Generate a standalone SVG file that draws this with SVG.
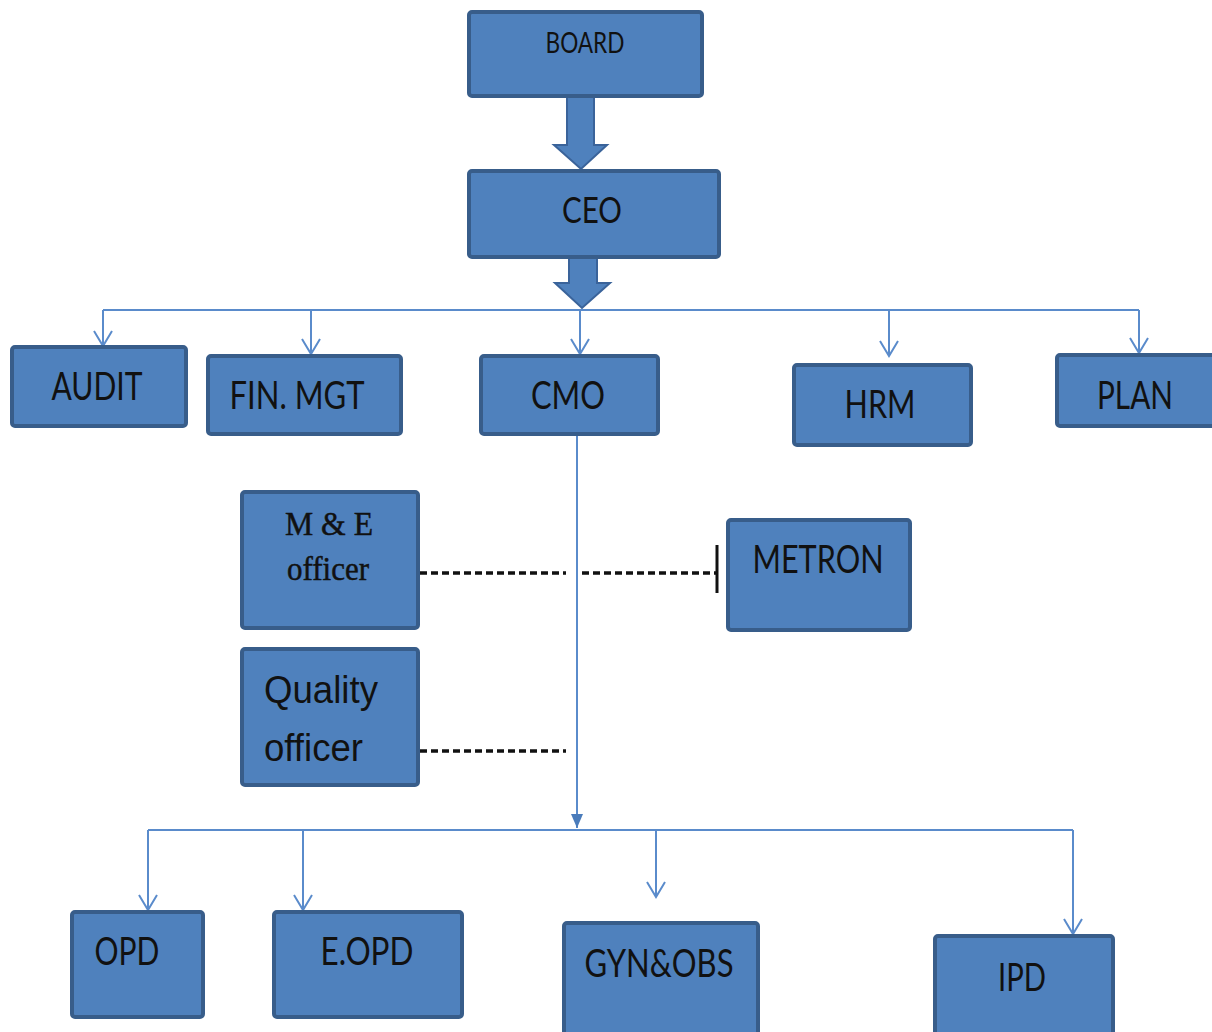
<svg xmlns="http://www.w3.org/2000/svg" width="1212" height="1032" viewBox="0 0 1212 1032">
<style>
.box{fill:#4F81BD;stroke:#385D8A;stroke-width:4}
.blk{fill:#4F81BD;stroke:#3A639A;stroke-width:2}
.t{font-family:Lato,"Open Sans",sans-serif;fill:#111;text-anchor:middle}
.s{font-family:"Liberation Serif","DejaVu Serif",serif;fill:#111;stroke:#111;stroke-width:0.5;text-anchor:middle}
.c{fill:none;stroke:#5A8BCB;stroke-width:2}
.d{fill:none;stroke:#111;stroke-width:3.5;stroke-dasharray:7 4}
</style>
<defs>
<marker id="v" markerUnits="userSpaceOnUse" markerWidth="24" markerHeight="24" viewBox="-18 -12 24 24" refX="0" refY="0" orient="auto">
<path d="M-15,-9 L0,0 L-15,9" fill="none" stroke="#5A8BCB" stroke-width="2"/>
</marker>
<marker id="f" markerUnits="userSpaceOnUse" markerWidth="20" markerHeight="20" viewBox="-16 -10 20 20" refX="0" refY="0" orient="auto">
<path d="M-14,-6 L0,0 L-14,6 Z" fill="#4A7CBB"/>
</marker>
</defs>

<g id="connectors">
<path class="blk" d="M567,97 H594 V145 H607 L581,169 L554,145 H567 Z"/>
<path class="blk" d="M569,258 H597 V283 H610 L582,308 L555,283 H569 Z"/>
<path class="c" d="M103,310 H1139"/>
<path class="c" d="M103,310 V346" marker-end="url(#v)"/>
<path class="c" d="M311,310 V354" marker-end="url(#v)"/>
<path class="c" d="M580,310 V354" marker-end="url(#v)"/>
<path class="c" d="M889,310 V356" marker-end="url(#v)"/>
<path class="c" d="M1139,310 V353" marker-end="url(#v)"/>
<path class="c" d="M577,434 V828" marker-end="url(#f)"/>
<path class="c" d="M148,830 H1073"/>
<path class="c" d="M148,830 V910" marker-end="url(#v)"/>
<path class="c" d="M303,830 V910" marker-end="url(#v)"/>
<path class="c" d="M656,830 V897" marker-end="url(#v)"/>
<path class="c" d="M1073,830 V934" marker-end="url(#v)"/>
<path class="d" d="M420,573 H566"/>
<path class="d" d="M582,573 H716"/>
<path d="M717,545 V593" stroke="#111" stroke-width="3"/>
<path class="d" d="M420,751 H566"/>
</g>

<g id="board"><rect class="box" x="469" y="12" width="233" height="84" rx="3"/><text class="t" x="585" y="53" font-size="28" textLength="79" lengthAdjust="spacingAndGlyphs">BOARD</text></g>
<g id="ceo"><rect class="box" x="469" y="171" width="250" height="86" rx="3"/><text class="t" x="592" y="223" font-size="36" textLength="60" lengthAdjust="spacingAndGlyphs">CEO</text></g>
<g id="audit"><rect class="box" x="12" y="347" width="174" height="79" rx="3"/><text class="t" x="97" y="400" font-size="39" textLength="91" lengthAdjust="spacingAndGlyphs">AUDIT</text></g>
<g id="finmgt"><rect class="box" x="208" y="356" width="193" height="78" rx="3"/><text class="t" x="297" y="409" font-size="39" textLength="135" lengthAdjust="spacingAndGlyphs">FIN. MGT</text></g>
<g id="cmo"><rect class="box" x="481" y="356" width="177" height="78" rx="3"/><text class="t" x="568" y="409" font-size="39" textLength="74" lengthAdjust="spacingAndGlyphs">CMO</text></g>
<g id="hrm"><rect class="box" x="794" y="365" width="177" height="80" rx="3"/><text class="t" x="880" y="418" font-size="39" textLength="71" lengthAdjust="spacingAndGlyphs">HRM</text></g>
<g id="plan"><rect class="box" x="1057" y="355" width="160" height="71" rx="3"/><text class="t" x="1135" y="409" font-size="39" textLength="76" lengthAdjust="spacingAndGlyphs">PLAN</text></g>
<g id="me"><rect class="box" x="242" y="492" width="176" height="136" rx="3"/>
<text class="s" x="329" y="535" font-size="34" textLength="88" lengthAdjust="spacingAndGlyphs">M &amp; E</text>
<text class="s" x="328" y="580" font-size="34" textLength="82" lengthAdjust="spacingAndGlyphs">officer</text></g>
<g id="quality"><rect class="box" x="242" y="649" width="176" height="136" rx="3"/>
<text x="264" y="703" font-family="'Liberation Sans',Arial,sans-serif" font-size="38" fill="#111" textLength="114" lengthAdjust="spacingAndGlyphs">Quality</text>
<text x="264" y="761" font-family="'Liberation Sans',Arial,sans-serif" font-size="38" fill="#111" textLength="99" lengthAdjust="spacingAndGlyphs">officer</text></g>
<g id="metron"><rect class="box" x="728" y="520" width="182" height="110" rx="3"/><text class="t" x="818" y="573" font-size="39" textLength="131" lengthAdjust="spacingAndGlyphs">METRON</text></g>
<g id="opd"><rect class="box" x="72" y="912" width="131" height="105" rx="3"/><text class="t" x="127" y="965" font-size="39" textLength="65" lengthAdjust="spacingAndGlyphs">OPD</text></g>
<g id="eopd"><rect class="box" x="274" y="912" width="188" height="105" rx="3"/><text class="t" x="367" y="965" font-size="39" textLength="93" lengthAdjust="spacingAndGlyphs">E.OPD</text></g>
<g id="gynobs"><rect class="box" x="564" y="923" width="194" height="115" rx="3"/><text class="t" x="659" y="977" font-size="39" textLength="149" lengthAdjust="spacingAndGlyphs">GYN&amp;OBS</text></g>
<g id="ipd"><rect class="box" x="935" y="936" width="178" height="102" rx="3"/><text class="t" x="1022" y="991" font-size="39" textLength="48" lengthAdjust="spacingAndGlyphs">IPD</text></g>
</svg>
